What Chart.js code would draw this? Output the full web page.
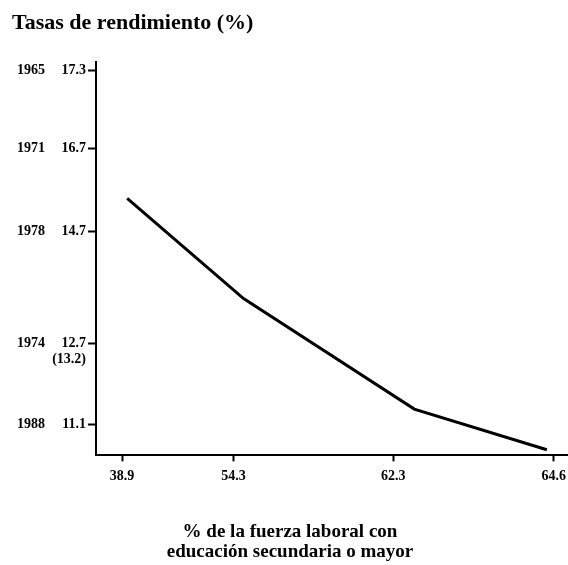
<!DOCTYPE html>
<html>
<head>
<meta charset="utf-8">
<script src="https://cdn.jsdelivr.net/npm/chart.js@4/dist/chart.umd.min.js"></script>
<style>
  body { margin: 0; background: #fff; }
  #contenedor { width: 568px; height: 565px; }
</style>
</head>
<body>
<div id="contenedor"><canvas id="grafico"></canvas></div>
<script>
// datos
const anios = ['1965', '1971', '1978', '1974', '1988'];
const tasas = [17.3, 16.7, 14.7, 12.7, 11.1];
const tasasNota = ['', '', '', '(13.2)', ''];
const fuerzaLaboral = [38.9, 54.3, 62.3, 64.6];
const lineaX = [39.6, 54.8, 62.6, 64.5];
const lineaY = [15.5, 13.5, 11.4, 10.6];

const fuente = 'Liberation Serif';

// escala por tramos: los ejes del original no son lineales
class EscalaTramos extends Chart.LinearScale {
    static id = 'tramos';
    fraccion(value) {
        const k = this.options.tramos;
        let i = 1;
        while (i < k.length - 1 && value > k[i][0]) i++;
        const a = k[i - 1], b = k[i];
        return a[1] + (value - a[0]) / (b[0] - a[0]) * (b[1] - a[1]);
    }
    getPixelForValue(value) {
        const f = this.fraccion(value);
        return this.isHorizontal() ? this.left + f * this.width : this.bottom - f * this.height;
    }
    getValueForPixel(pixel) {
        const f = this.isHorizontal() ? (pixel - this.left) / this.width : (this.bottom - pixel) / this.height;
        const k = this.options.tramos;
        let i = 1;
        while (i < k.length - 1 && f > k[i][1]) i++;
        const a = k[i - 1], b = k[i];
        return a[0] + (f - a[1]) / (b[1] - a[1]) * (b[0] - a[0]);
    }
}
Chart.register(EscalaTramos);

const tramosY = [[10.49, 0], [11.1, 0.079], [12.7, 0.286], [14.7, 0.569], [16.7, 0.781], [17.3, 0.98], [17.36, 1]];
const tramosX = [[35.3, 0], [38.9, 0.0553], [54.3, 0.2915], [62.3, 0.63], [64.6, 0.97], [64.8, 1]];

function ticksFijos(valores) {
    return function(scale) {
        scale.ticks = valores.map(v => ({ value: v }));
    };
}

const ctx = document.getElementById('grafico');
new Chart(ctx, {
    type: 'line',
    data: {
        datasets: [{
            data: lineaX.map((x, i) => ({ x: x, y: lineaY[i] })),
            borderColor: '#000',
            borderWidth: 3,
            pointRadius: 0,
            tension: 0,
            fill: false
        }]
    },
    options: {
        responsive: true,
        maintainAspectRatio: false,
        animation: false,
        layout: { padding: { left: 12, right: 0, top: 10, bottom: 2 } },
        plugins: {
            legend: { display: false },
            tooltip: { enabled: false },
            subtitle: {
                display: true,
                position: 'top',
                align: 'start',
                text: 'Tasas de rendimiento (%)',
                color: '#000',
                font: { family: fuente, size: 22, weight: 'bold' },
                padding: { top: 0, bottom: 26 }
            },
            title: {
                display: true,
                position: 'bottom',
                text: ['% de la fuerza laboral con', 'educación secundaria o mayor'],
                color: '#000',
                font: { family: fuente, size: 19, weight: 'bold', lineHeight: 1.1 },
                padding: { top: 29, bottom: 0 }
            }
        },
        scales: {
            x: {
                type: 'tramos',
                tramos: tramosX,
                min: 35.3,
                max: 64.8,
                afterBuildTicks: ticksFijos(fuerzaLaboral),
                afterFit: s => { s.paddingRight = 0; s.paddingLeft = 0; },
                border: { display: true, color: '#000', width: 2 },
                grid: { display: true, drawOnChartArea: false, drawTicks: true, tickLength: 6, tickWidth: 2, tickColor: '#000' },
                ticks: {
                    color: '#000',
                    padding: 7,
                    maxRotation: 0,
                    font: { family: fuente, size: 14, weight: 'bold' },
                    callback: v => String(v)
                }
            },
            y: {
                type: 'tramos',
                tramos: tramosY,
                min: 10.49,
                max: 17.36,
                weight: 0,
                afterBuildTicks: ticksFijos(tasas),
                afterFit: s => { s.width = 46; },
                border: { display: true, color: '#000', width: 2 },
                grid: { display: true, drawOnChartArea: false, drawTicks: true, tickLength: 8, tickWidth: 2, tickColor: '#000' },
                ticks: {
                    color: '#000',
                    padding: 2,
                    font: { family: fuente, size: 14, weight: 'bold' },
                    callback: function(v) {
                        const i = tasas.indexOf(v);
                        if (tasasNota[i]) return ['', String(v), tasasNota[i]];
                        return String(v);
                    }
                }
            },
            yAnio: {
                type: 'tramos',
                tramos: tramosY,
                position: 'left',
                min: 10.49,
                max: 17.36,
                weight: 1,
                afterBuildTicks: ticksFijos(tasas),
                afterFit: s => { s.width = 38; },
                border: { display: false },
                grid: { display: false, drawTicks: false },
                ticks: {
                    color: '#000',
                    padding: 5,
                    font: { family: fuente, size: 14, weight: 'bold' },
                    callback: function(v) {
                        return anios[tasas.indexOf(v)];
                    }
                }
            }
        }
    }
});
</script>
</body>
</html>
